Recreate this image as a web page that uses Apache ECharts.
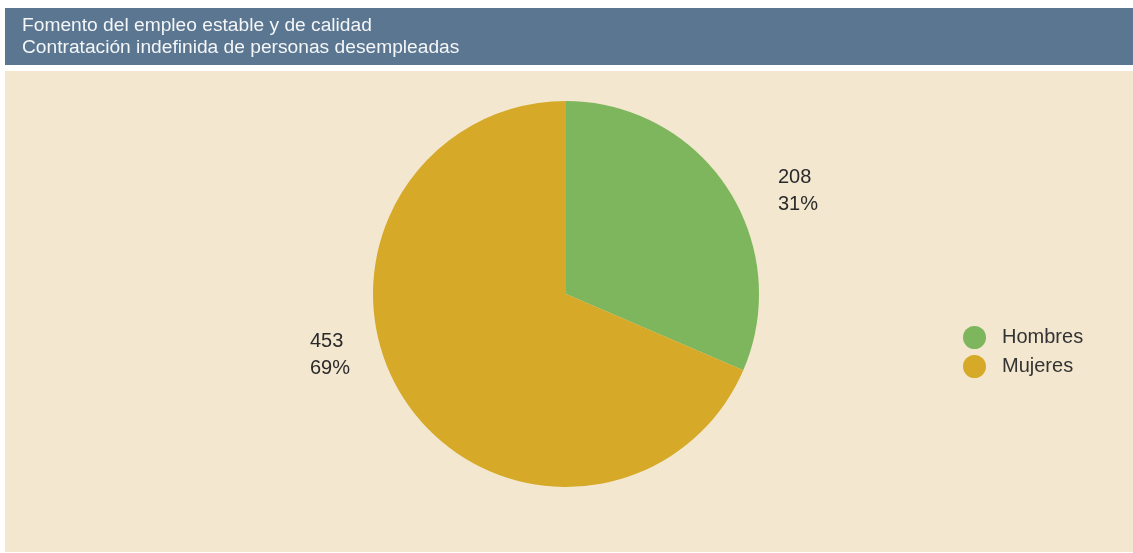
<!DOCTYPE html>
<html><head><meta charset="utf-8">
<script src="https://cdn.jsdelivr.net/npm/echarts@6/dist/echarts.min.js"></script>
<style>html,body{margin:0;padding:0;background:#fff}#c{width:1133px;height:553px}</style>
</head><body><div id="c"></div>
<script>
var titleLines = ['Fomento del empleo estable y de calidad', 'Contratación indefinida de personas desempleadas'];
var categories = ['Hombres', 'Mujeres'];
var values = [208, 453];
var percents = [31, 69];
var colors = ['#7db65c', '#d6a928'];

var chart = echarts.init(document.getElementById('c'));
var FONT = '"Liberation Sans", Arial, sans-serif';
var labelPos = [[778, 164], [310, 328]];
chart.setOption({
  backgroundColor: '#ffffff',
  animation: false,
  graphic: [
    {type: 'rect', shape: {x: 5, y: 8, width: 1128, height: 57}, style: {fill: '#5b7690'}, z: 0},
    {type: 'rect', shape: {x: 5, y: 71, width: 1128, height: 481}, style: {fill: '#f3e7cf'}, z: 0},
    {type: 'text', left: 22, top: 15, z: 2, style: {text: titleLines.join('\n'), fill: '#f4f6f8', font: '19.2px ' + FONT, lineHeight: 22}}
  ],
  legend: {
    orient: 'vertical', left: 963, top: 326, padding: 0,
    data: categories, icon: 'circle', itemWidth: 23, itemHeight: 23, itemGap: 6,
    textStyle: {fontSize: 20, fontFamily: FONT, color: '#333', padding: [0, 0, 0, 11]}
  },
  series: [{
    type: 'pie', center: [566, 294], radius: 193, startAngle: 90, clockwise: true,
    data: categories.map(function (c, i) { return {name: c, value: values[i], itemStyle: {color: colors[i]}}; }),
    label: {
      show: true, position: 'outside', color: '#2a2a2a', fontSize: 20, fontFamily: FONT, lineHeight: 27, align: 'left',
      formatter: function (p) { return values[p.dataIndex] + '\n' + percents[p.dataIndex] + '%'; }
    },
    labelLine: {show: false},
    labelLayout: function (p) { return {x: labelPos[p.dataIndex][0], y: labelPos[p.dataIndex][1], align: 'left', verticalAlign: 'top'}; },
    emphasis: {disabled: true}
  }]
});
</script></body></html>
